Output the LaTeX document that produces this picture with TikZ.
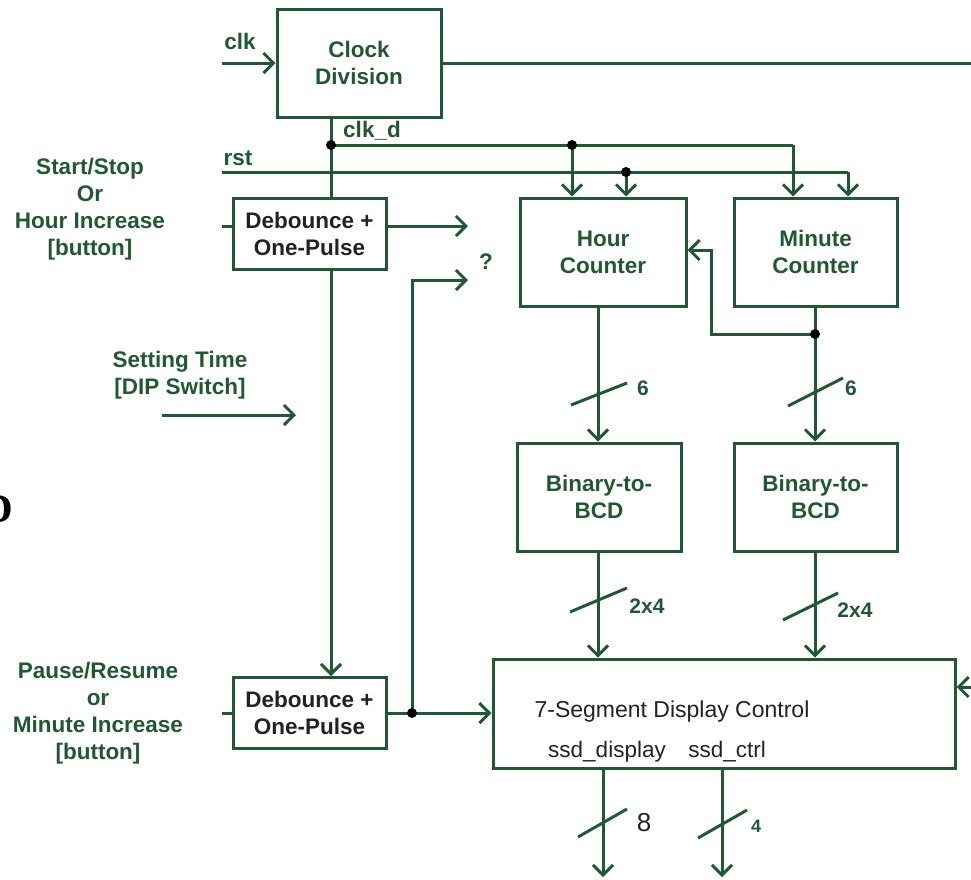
\documentclass[tikz,border=0pt]{standalone}
\usepackage{fontspec}
\setmainfont{Liberation Sans}
\newfontfamily\serifglyph{Liberation Serif}
\usetikzlibrary{arrows.meta}
\definecolor{gr}{RGB}{33,87,50}
\definecolor{tx}{RGB}{34,34,34}
\tikzset{
  wire/.style={draw=gr, line width=3pt},
  arr/.style={wire, -{Straight Barb[length=10pt,width=20pt,line width=3pt]}},
  blk/.style={draw=gr, line width=3pt, inner sep=0pt, align=center,
    font=\bfseries\fontsize{22.5}{27}\selectfont, text=gr},
  dbblk/.style={blk, text=tx},
  lbl/.style={inner sep=0pt, align=center, text=gr,
    font=\bfseries\fontsize{22.5}{27}\selectfont},
  dot/.style={circle, fill=black, inner sep=0pt, minimum size=10pt},
  busno/.style={inner sep=0pt, text=gr, font=\bfseries\fontsize{21}{21}\selectfont},
}
\begin{document}
\begin{tikzpicture}[x=1pt,y=-1pt]
\useasboundingbox (0,0) rectangle (971,879);
% clipped glyph at the left edge
\node[inner sep=0pt, anchor=east, font=\serifglyph\bfseries\fontsize{41}{41}\selectfont] (glyph) at (13,509) {D};

% blocks
\node[blk, minimum width=164pt, minimum height=108pt] (cd) at (359,63) {Clock\\Division};
\node[dbblk, minimum width=153pt, minimum height=71pt] (db1) at (309.5,233.5) {Debounce +\\One-Pulse};
\node[dbblk, minimum width=153pt, minimum height=71pt] (db2) at (309.5,713) {Debounce +\\One-Pulse};
\node[blk, minimum width=166pt, minimum height=108pt] (hc) at (603,252) {Hour\\Counter};
\node[blk, minimum width=163pt, minimum height=108pt] (mc) at (815.5,252) {Minute\\Counter};
\node[blk, minimum width=164pt, minimum height=108pt] (b1) at (599,497) {Binary-to-\\BCD};
\node[blk, minimum width=163pt, minimum height=108pt] (b2) at (815.5,497) {Binary-to-\\BCD};
\node[draw=gr, line width=3pt, minimum width=462pt, minimum height=109pt, inner sep=0pt] (ssd) at (724,713.5) {};
\node[inner sep=0pt, text=tx, font=\fontsize{23}{23}\selectfont] (ssdt) at (672,712) {7-Segment Display Control};
\node[inner sep=0pt, text=tx, font=\fontsize{22.5}{22.5}\selectfont, anchor=base] (ssdd) at (607,757) {ssd\_display};
\node[inner sep=0pt, text=tx, font=\fontsize{22.5}{22.5}\selectfont, anchor=base] (ssdc) at (727,757) {ssd\_ctrl};

% coordinates
\coordinate (clkin) at (222,63);
\coordinate (cdout) at (971,63);
\coordinate (dA) at (331,145);
\coordinate (dB) at (572,145);
\coordinate (dF) at (793,145);
\coordinate (rstin) at (222,172);
\coordinate (dC) at (626,172);
\coordinate (dG) at (848,172);
\coordinate (s1) at (222,226);
\coordinate (q1) at (468,226);
\coordinate (s2) at (222,713);
\coordinate (dE) at (412,713);
\coordinate (qc) at (412,280);
\coordinate (q2) at (468,280);
\coordinate (dD) at (815,334);
\coordinate (fb1) at (711,334);
\coordinate (fb2) at (711,250);
\coordinate (hx) at (598,0);
\coordinate (o1) at (603,877);
\coordinate (o2) at (722,877);
\coordinate (rin) at (971,687);
\coordinate (st1) at (162,415);
\coordinate (st2) at (296,415);

% wires
\draw[arr] (clkin) -- (cd.west |- clkin);
\draw[wire] (cd.east |- cdout) -- (cdout);
\draw[wire] (cd.south -| dA) -- (dA);
\draw[wire] (dA) -- (db1.north -| dA);
\draw[wire] (dA) -- (dF);
\draw[arr] (dF) -- (mc.north -| dF);
\draw[arr] (dB) -- (hc.north -| dB);
\draw[wire] (rstin) -- (dG);
\draw[arr] (dG) -- (mc.north -| dG);
\draw[arr] (dC) -- (hc.north -| dC);
\draw[wire] (s1) -- (db1.west |- s1);
\draw[arr] (db1.east |- q1) -- (q1);
\draw[arr] (db1.south -| dA) -- (db2.north -| dA);
\draw[wire] (s2) -- (db2.west |- s2);
\draw[arr] (db2.east |- dE) -- (ssd.west |- dE);
\draw[arr] (dE) -- (qc) -- (q2);
\draw[wire] (mc.south -| dD) -- (dD);
\draw[arr] (dD) -- (fb1) -- (fb2) -- (hc.east |- fb2);
\draw[arr] (hc.south -| hx) -- (b1.north -| hx);
\draw[arr] (dD) -- (b2.north -| dD);
\draw[arr] (b1.south -| hx) -- (ssd.north -| hx);
\draw[arr] (b2.south -| dD) -- (ssd.north -| dD);
\draw[arr] (ssd.south -| o1) -- (o1);
\draw[arr] (ssd.south -| o2) -- (o2);
\draw[arr] (rin) -- (ssd.east |- rin);
\draw[arr] (st1) -- (st2);

% junction dots
\node[dot] at (dA) {};
\node[dot] at (dB) {};
\node[dot] at (dC) {};
\node[dot] at (dD) {};
\node[dot] at (dE) {};

% bus slashes
\draw[wire] (571,405) -- (627,383);
\draw[wire] (788,406) -- (843,378);
\draw[wire] (570,612) -- (627,588);
\draw[wire] (783,620) -- (838,593);
\draw[wire] (578,837) -- (627,809);
\draw[wire] (698,838) -- (747,810);

% bus widths
\node[busno] (n6a) at (643,388) {6};
\node[busno] (n6b) at (851,388) {6};
\node[busno] (n24a) at (647,606) {2x4};
\node[busno] (n24b) at (855,610) {2x4};
\node[inner sep=0pt, text=tx, font=\fontsize{26}{26}\selectfont] (n8) at (644,823) {8};
\node[busno, font=\bfseries\fontsize{18}{18}\selectfont] (n4) at (756,826) {4};

% signal labels
\node[lbl] (lclk) at (240,41) {clk};
\node[lbl] (lclkd) at (372,131) {clk\_d};
\node[lbl] (lrst) at (238,158) {rst};
\node[lbl] (lq) at (486,262) {?};
\node[lbl] (lss) at (90,209) {Start/Stop\\Or\\Hour Increase\\{}[button]};
\node[lbl] (lset) at (180,375) {Setting Time\\{}[DIP Switch]};
\node[lbl] (lpr) at (98,713) {Pause/Resume\\or\\Minute Increase\\{}[button]};
\end{tikzpicture}
\end{document}
